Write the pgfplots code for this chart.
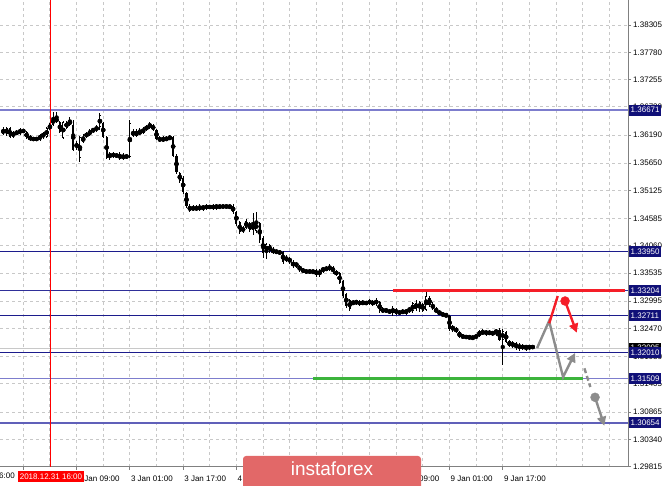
\documentclass[border=0pt]{standalone}
\usepackage{pgfplots}
\pgfplotsset{compat=1.18}
\usepackage{pgfplotstable}
\usepackage{fontspec}
\setmainfont{Liberation Sans}
\usetikzlibrary{arrows.meta}
\definecolor{navy}{RGB}{28,28,140}
\definecolor{lnavy}{RGB}{125,125,205}
\definecolor{gridc}{RGB}{200,200,200}
\definecolor{logored}{RGB}{226,104,104}
\definecolor{arrowgray}{RGB}{140,140,140}
\definecolor{mtred}{RGB}{245,30,40}
\definecolor{mtgreen}{RGB}{60,180,60}
\definecolor{boxnavy}{RGB}{16,16,120}
\definecolor{axisgray}{RGB}{128,128,128}

\pgfplotstableread{
x o h l c
1 1.36306 1.36344 1.36190 1.36210
2 1.36210 1.36344 1.36171 1.36325
3 1.36325 1.36344 1.36133 1.36152
4 1.36152 1.36267 1.36133 1.36248
5 1.36248 1.36287 1.36190 1.36210
6 1.36210 1.36325 1.36190 1.36306
7 1.36287 1.36306 1.36229 1.36248
8 1.36248 1.36267 1.36113 1.36133
9 1.36171 1.36190 1.36075 1.36094
10 1.36094 1.36152 1.36075 1.36133
11 1.36133 1.36152 1.36075 1.36094
12 1.36094 1.36210 1.36075 1.36190
13 1.36152 1.36248 1.36113 1.36229
14 1.36152 1.36344 1.36133 1.36325
15 1.36306 1.36421 1.36287 1.36383
16 1.36383 1.36633 1.36363 1.36517
17 1.36517 1.36633 1.36421 1.36440
18 1.36440 1.36460 1.36229 1.36248
19 1.36133 1.36460 1.36113 1.36440
20 1.36440 1.36460 1.36306 1.36325
21 1.36383 1.36536 1.36363 1.36479
22 1.36383 1.36479 1.35883 1.35902
23 1.35940 1.36075 1.35902 1.36037
24 1.35748 1.36171 1.35671 1.36152
25 1.36152 1.36210 1.36037 1.36056
26 1.36152 1.36248 1.36133 1.36229
27 1.36190 1.36306 1.36171 1.36287
28 1.36267 1.36325 1.36229 1.36306
29 1.36287 1.36383 1.36248 1.36344
30 1.36344 1.36613 1.36287 1.36575
31 1.36421 1.36440 1.36133 1.36152
32 1.36152 1.36171 1.35729 1.35748
33 1.35748 1.35863 1.35710 1.35844
34 1.35844 1.35863 1.35748 1.35767
35 1.35767 1.35844 1.35748 1.35825
36 1.35825 1.35863 1.35710 1.35729
37 1.35729 1.35844 1.35710 1.35806
38 1.35806 1.35825 1.35729 1.35748
39 1.35767 1.36479 1.35748 1.36421
40 1.36267 1.36306 1.36152 1.36171
41 1.36171 1.36306 1.36152 1.36267
42 1.36267 1.36325 1.36190 1.36210
43 1.36229 1.36344 1.36210 1.36306
44 1.36306 1.36383 1.36267 1.36344
45 1.36344 1.36440 1.36306 1.36402
46 1.36383 1.36402 1.36267 1.36287
47 1.36287 1.36306 1.36094 1.36113
48 1.36133 1.36171 1.36056 1.36075
49 1.36075 1.36171 1.36056 1.36133
50 1.36133 1.36171 1.36075 1.36094
51 1.36113 1.36190 1.36094 1.36152
52 1.36152 1.36171 1.35767 1.35787
53 1.35787 1.35825 1.35441 1.35479
54 1.35460 1.35480 1.35267 1.35306
55 1.35364 1.35403 1.35056 1.35095
56 1.35075 1.35095 1.34787 1.34826
57 1.34826 1.34864 1.34711 1.34730
58 1.34749 1.34845 1.34730 1.34806
59 1.34806 1.34845 1.34730 1.34749
60 1.34749 1.34864 1.34730 1.34826
61 1.34826 1.34845 1.34730 1.34768
62 1.34768 1.34864 1.34749 1.34845
63 1.34826 1.34845 1.34768 1.34787
64 1.34768 1.34864 1.34749 1.34845
65 1.34845 1.34864 1.34749 1.34787
66 1.34806 1.34845 1.34768 1.34826
67 1.34826 1.34845 1.34787 1.34806
68 1.34806 1.34845 1.34787 1.34826
69 1.34826 1.34845 1.34768 1.34806
70 1.34826 1.34864 1.34672 1.34711
71 1.34711 1.34730 1.34441 1.34479
72 1.34518 1.34537 1.34287 1.34326
73 1.34345 1.34441 1.34306 1.34403
74 1.34403 1.34575 1.34383 1.34537
75 1.34499 1.34518 1.34326 1.34364
76 1.34364 1.34691 1.34268 1.34460
77 1.34345 1.34711 1.34306 1.34518
78 1.34499 1.34518 1.34114 1.34172
79 1.34210 1.34249 1.33826 1.33922
80 1.33941 1.34114 1.33807 1.34095
81 1.34076 1.34095 1.33922 1.33960
82 1.33999 1.34037 1.33903 1.33922
83 1.33941 1.33980 1.33903 1.33960
84 1.33941 1.33980 1.33884 1.33922
85 1.33941 1.33960 1.33710 1.33749
86 1.33768 1.33884 1.33749 1.33845
87 1.33826 1.33845 1.33710 1.33749
88 1.33749 1.33787 1.33634 1.33672
89 1.33672 1.33749 1.33634 1.33730
90 1.33672 1.33691 1.33557 1.33595
91 1.33614 1.33634 1.33538 1.33557
92 1.33576 1.33595 1.33538 1.33557
93 1.33557 1.33595 1.33538 1.33576
94 1.33576 1.33595 1.33518 1.33557
95 1.33595 1.33614 1.33461 1.33499
96 1.33499 1.33614 1.33461 1.33595
97 1.33576 1.33653 1.33538 1.33634
98 1.33634 1.33672 1.33576 1.33595
99 1.33595 1.33710 1.33576 1.33672
100 1.33653 1.33672 1.33518 1.33557
101 1.33576 1.33595 1.33480 1.33499
102 1.33538 1.33557 1.33326 1.33346
103 1.33384 1.33403 1.33057 1.33096
104 1.33134 1.33153 1.32865 1.32903
105 1.33018 1.33038 1.32807 1.32845
106 1.32980 1.33018 1.32922 1.32941
107 1.32961 1.33018 1.32922 1.32999
108 1.32999 1.33018 1.32903 1.32922
109 1.32941 1.33018 1.32922 1.32980
110 1.32980 1.32999 1.32922 1.32941
111 1.32941 1.33038 1.32922 1.33018
112 1.32999 1.33018 1.32903 1.32922
113 1.32941 1.33057 1.32903 1.33018
114 1.32980 1.32999 1.32769 1.32807
115 1.32845 1.32884 1.32769 1.32788
116 1.32788 1.32865 1.32769 1.32845
117 1.32826 1.32845 1.32749 1.32769
118 1.32769 1.32903 1.32711 1.32865
119 1.32845 1.32865 1.32730 1.32749
120 1.32749 1.32826 1.32730 1.32807
121 1.32807 1.32845 1.32749 1.32769
122 1.32769 1.32845 1.32730 1.32826
123 1.32807 1.32884 1.32769 1.32865
124 1.32807 1.32980 1.32769 1.32961
125 1.32961 1.33018 1.32807 1.32845
126 1.32845 1.32999 1.32788 1.32980
127 1.32941 1.32961 1.32788 1.32807
128 1.32826 1.33172 1.32807 1.33096
129 1.33057 1.33096 1.32884 1.32922
130 1.32941 1.32980 1.32826 1.32845
131 1.32845 1.32884 1.32769 1.32788
132 1.32788 1.32826 1.32730 1.32749
133 1.32749 1.32769 1.32711 1.32730
134 1.32730 1.32769 1.32692 1.32711
135 1.32711 1.32730 1.32422 1.32461
136 1.32461 1.32538 1.32403 1.32499
137 1.32480 1.32499 1.32384 1.32403
138 1.32403 1.32422 1.32288 1.32307
139 1.32307 1.32365 1.32269 1.32326
140 1.32326 1.32345 1.32269 1.32288
141 1.32288 1.32345 1.32269 1.32307
142 1.32307 1.32326 1.32249 1.32288
143 1.32288 1.32365 1.32269 1.32345
144 1.32326 1.32442 1.32307 1.32422
145 1.32422 1.32461 1.32345 1.32365
146 1.32365 1.32442 1.32326 1.32422
147 1.32403 1.32442 1.32345 1.32365
148 1.32365 1.32422 1.32326 1.32403
149 1.32384 1.32461 1.32326 1.32442
150 1.32442 1.32480 1.32230 1.32249
151 1.32249 1.32461 1.31768 1.32422
152 1.32403 1.32422 1.32192 1.32211
153 1.32230 1.32249 1.32115 1.32134
154 1.32134 1.32230 1.32095 1.32192
155 1.32192 1.32211 1.32057 1.32095
156 1.32095 1.32192 1.32038 1.32153
157 1.32134 1.32172 1.32057 1.32095
158 1.32095 1.32153 1.32038 1.32134
159 1.32134 1.32153 1.32057 1.32095
160 1.32095 1.32153 1.32076 1.32134
}\candles

\begin{document}
\begin{tikzpicture}[x=1pt,y=1pt]
\begin{pgfinterruptboundingbox}
\begin{axis}[
  scale only axis, width=628pt, height=467pt,
  xmin=0, xmax=188.6, ymin=1.29808, ymax=1.38786,
  axis x line*=bottom, axis y line*=right,
  axis line style={draw=axisgray, line width=1pt, -},
  every outer x axis line/.append style={-},
  every outer y axis line/.append style={-},
  xtick={7,23,39,55,71,87,103,119,135,151},
  xticklabels={31 Dec 08:00,2 Jan 09:00,3 Jan 01:00,3 Jan 17:00,4 Jan 09:00,7 Jan 01:00,7 Jan 17:00,8 Jan 09:00,9 Jan 01:00,9 Jan 17:00},
  minor xtick={15,31,47,63,79,95,111,127,143,159,167,175,183},
  ytick={1.29815,1.30340,1.30865,1.31405,1.31930,1.32470,1.32995,1.33535,1.34060,1.34585,1.35125,1.35650,1.36190,1.36730,1.37255,1.37780,1.38305},
  yticklabels={1.29815,1.30340,1.30865,1.31405,1.31930,1.32470,1.32995,1.33535,1.34060,1.34585,1.35125,1.35650,1.36190,1.36730,1.37255,1.37780,1.38305},
  tick align=outside, major tick length=3pt, minor tick length=0pt,
  tick style={draw=axisgray, line width=1pt},
  grid=both,
  major grid style={draw=gridc, line width=1pt, dash pattern=on 3pt off 3pt},
  minor grid style={draw=gridc, line width=1pt, dash pattern=on 3pt off 3pt},
  every tick label/.append style={font=\fontsize{8}{9.6}\selectfont, text=black},
  xticklabel style={anchor=base west, inner sep=0pt, xshift=1pt, yshift=-11.5pt},
  yticklabel style={anchor=west, inner sep=0pt, xshift=2pt},
  clip=true,
]
% level lines
\addplot[lnavy, line width=1.6pt, forget plot] coordinates {(0,1.36671) (188.6,1.36671)};
\addplot[navy, line width=1pt, forget plot] coordinates {(0,1.33950) (188.6,1.33950)};
\addplot[navy!80!lnavy, line width=1pt, forget plot] coordinates {(0,1.33204) (188.6,1.33204)};
\addplot[navy, line width=1pt, forget plot] coordinates {(0,1.32711) (188.6,1.32711)};
\addplot[gridc, line width=1pt, forget plot] coordinates {(0,1.32095) (188.6,1.32095)};
\addplot[navy, line width=1pt, forget plot] coordinates {(0,1.32010) (188.6,1.32010)};
\addplot[lnavy, line width=1.3pt, forget plot] coordinates {(0,1.31509) (188.6,1.31509)};
\addplot[lnavy!70!navy, line width=1.3pt, forget plot] coordinates {(0,1.30654) (188.6,1.30654)};
% resistance / support
\addplot[mtred, line width=3pt, forget plot] coordinates {(118,1.33204) (187.7,1.33204)};
\addplot[mtgreen, line width=3pt, forget plot] coordinates {(94,1.31509) (175.1,1.31509)};
% vertical red line
\addplot[red, line width=1pt, forget plot] coordinates {(15.3,1.29808) (15.3,1.38786)};
% candles: wicks
\addplot[only marks, mark=none, forget plot, error bars/.cd, y dir=both, y explicit, error mark=none,
  error bar style={draw=black, line width=0.9pt}]
  table[x=x, y expr={0.5*(\thisrow{h}+\thisrow{l})}, y error expr={0.5*(\thisrow{h}-\thisrow{l})}] {\candles};
% bodies
\addplot[only marks, mark=none, forget plot, error bars/.cd, y dir=both, y explicit, error mark=none,
  error bar style={draw=black, line width=2.1pt}]
  table[x=x, y expr={0.5*(\thisrow{o}+\thisrow{c})}, y error expr={max(0.5*abs(\thisrow{o}-\thisrow{c}),0.0001)}] {\candles};
% hollow bull bodies
\addplot[only marks, mark=none, forget plot, error bars/.cd, y dir=both, y explicit, error mark=none,
  error bar style={draw=white, line width=0.6pt}]
  table[x=x, y expr={0.5*(\thisrow{o}+\thisrow{c})}, y error expr={max(0.5*(\thisrow{c}-\thisrow{o})-0.00019,0)}] {\candles};
% forecast arrows
\addplot[arrowgray, line width=2.4pt, line join=miter, -{Triangle[width=9pt,length=9pt]}, forget plot]
  coordinates {(161.3,1.32095) (164.9,1.32615) (169.1,1.31538) (172.7,1.32000)};
\addplot[mtred, line width=2.4pt, forget plot] coordinates {(164.95,1.32571) (167.5,1.33095)};
\addplot[mtred, line width=2.4pt, -{Triangle[width=9pt,length=9pt]}, forget plot]
  coordinates {(169.7,1.32999) (173.2,1.32390)};
\addplot[only marks, mark=*, mark size=4.5pt, mtred, forget plot] coordinates {(169.7,1.32999)};
\addplot[arrowgray, line width=2.4pt, dash pattern=on 5pt off 3pt, forget plot]
  coordinates {(175.5,1.31705) (177.3,1.31346)};
\addplot[arrowgray, line width=2.4pt, -{Triangle[width=9pt,length=9pt]}, forget plot]
  coordinates {(178.7,1.31148) (181.5,1.30602)};
\addplot[only marks, mark=*, mark size=4.5pt, arrowgray, forget plot] coordinates {(178.7,1.31148)};
% anchors for labels
\coordinate (SW) at (axis cs:0,1.29808);
\coordinate (L1) at (axis cs:188.6,1.36671);
\coordinate (L2) at (axis cs:188.6,1.33950);
\coordinate (L3) at (axis cs:188.6,1.33204);
\coordinate (L4) at (axis cs:188.6,1.32711);
\coordinate (LB) at (axis cs:188.6,1.32095);
\coordinate (L5) at (axis cs:188.6,1.32010);
\coordinate (L6) at (axis cs:188.6,1.31509);
\coordinate (L7) at (axis cs:188.6,1.30654);
\coordinate (RD) at (axis cs:15.3,1.29808);
\end{axis}
\end{pgfinterruptboundingbox}
% page = 665 x 486, plot area bottom 19pt above page bottom
\coordinate (O) at ([yshift=-19pt]SW);
\useasboundingbox (O) rectangle ([xshift=665pt,yshift=486pt]O);
\begin{pgfinterruptboundingbox}
% price labels
\tikzset{pl/.style={anchor=west, inner xsep=1.5pt, inner ysep=0pt, minimum height=11pt, text=white,
  font=\fontsize{8}{9.6}\selectfont}}
\node[pl, fill=black] at ([xshift=1pt]LB) {1.32095};
\node[pl, fill=boxnavy] at ([xshift=1pt]L1) {1.36671};
\node[pl, fill=boxnavy] at ([xshift=1pt]L2) {1.33950};
\node[pl, fill=boxnavy] at ([xshift=1pt]L3) {1.33204};
\node[pl, fill=boxnavy] at ([xshift=1pt]L4) {1.32711};
\node[pl, fill=boxnavy] at ([xshift=1pt]L5) {1.32010};
\node[pl, fill=boxnavy] at ([xshift=1pt]L6) {1.31509};
\node[pl, fill=boxnavy] at ([xshift=1pt]L7) {1.30654};
% date label of vertical line
\node[fill=red, text=white, anchor=north, inner xsep=2pt, inner ysep=0pt, minimum height=11pt,
  font=\fontsize{8}{9.6}\selectfont] at ([yshift=-4pt]RD) {2018.12.31 16:00};
% clipped first time label
\node[anchor=base east, inner sep=0pt, font=\fontsize{8}{9.6}\selectfont] at ([xshift=15pt,yshift=7.5pt]O) {28 Dec 16:00};
% watermark
\fill[logored, rounded corners=3pt] ([xshift=243pt,yshift=-6pt]O) rectangle ([xshift=421pt,yshift=30pt]O);
\node[text=white, font=\fontsize{19}{22}\selectfont] at ([xshift=332pt,yshift=17pt]O) {instaforex};
\end{pgfinterruptboundingbox}
\end{tikzpicture}
\end{document}
